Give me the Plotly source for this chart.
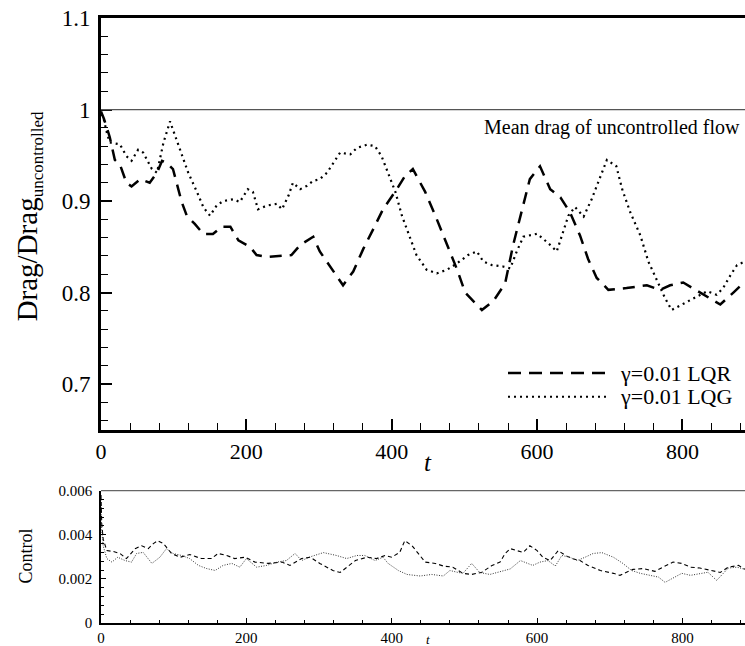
import plotly.graph_objects as go

# ---------------- data ----------------
t_lqr = [0, 4, 12, 19, 26, 35, 42, 54, 67, 77, 84, 90, 99, 111, 118, 129, 141, 154, 166, 178,
         189, 205, 214, 228, 251, 262, 274, 292, 301, 320, 333, 347, 361, 375, 388, 407, 418, 429, 446, 460,
         476, 490, 501, 524, 540, 556, 567, 577, 590, 604, 618, 632, 645, 659, 670, 682, 698, 723, 751, 769,
         783, 801, 824, 852, 870, 886]
drag_lqr = [0.998, 0.99, 0.97, 0.945, 0.94, 0.92, 0.916, 0.924, 0.92, 0.931,
            0.944, 0.942, 0.935, 0.899, 0.884, 0.875, 0.864, 0.864, 0.872, 0.872,
            0.857, 0.85, 0.841, 0.839, 0.8405, 0.841, 0.852, 0.861, 0.845, 0.823,
            0.808, 0.823, 0.848, 0.870, 0.891, 0.913, 0.927, 0.935, 0.91, 0.884,
            0.852, 0.825, 0.80, 0.781, 0.791, 0.810, 0.852, 0.884, 0.924, 0.938,
            0.913, 0.904, 0.888, 0.8625, 0.837, 0.816, 0.803, 0.805, 0.808, 0.803,
            0.808, 0.811, 0.80, 0.787, 0.80, 0.812]

t_lqg = [0, 3, 8, 12, 26, 35, 42, 51, 58, 70, 77, 86, 95, 104, 111, 120, 132, 141, 150, 159,
         168, 182, 191, 202, 209, 216, 228, 242, 249, 258, 264, 274, 283, 292, 301, 311, 320, 329, 343, 352,
         366, 377, 386, 395, 405, 414, 425, 434, 448, 462, 476, 490, 505, 517, 526, 538, 553, 563, 572, 581,
         600, 616, 627, 636, 643, 652, 664, 675, 687, 696, 709, 717, 728, 742, 753, 767, 776, 785, 799, 815,
         834, 847, 856, 866, 875, 886]
drag_lqg = [0.995, 0.992, 0.975, 0.964, 0.962, 0.949, 0.944, 0.956, 0.953, 0.935,
            0.931, 0.964, 0.987, 0.967, 0.949, 0.931, 0.91, 0.893, 0.884, 0.895,
            0.90, 0.902, 0.899, 0.913, 0.91, 0.891, 0.895, 0.897, 0.891, 0.906,
            0.92, 0.913, 0.9165, 0.922, 0.924, 0.931, 0.942, 0.953, 0.951, 0.958,
            0.9616, 0.96, 0.949, 0.931, 0.91, 0.884, 0.859, 0.841, 0.825, 0.821,
            0.825, 0.832, 0.841, 0.845, 0.834, 0.83, 0.8285, 0.8265, 0.845, 0.861,
            0.8643, 0.8535, 0.845, 0.866, 0.884, 0.8935, 0.883, 0.902, 0.927, 0.945,
            0.938, 0.913, 0.888, 0.8625, 0.834, 0.8085, 0.794, 0.781, 0.787, 0.794,
            0.8015, 0.7976, 0.805, 0.819, 0.83, 0.834]

tc_lqr = [0, 1, 3, 8, 17, 26, 35, 47, 56, 65, 72, 78, 86, 90, 97, 109, 122, 138, 152, 161,
          173, 184, 198, 212, 230, 249, 260, 276, 288, 301, 319, 329, 338, 350, 366, 379, 391, 400, 411, 418,
          428, 436, 446, 460, 471, 484, 498, 510, 524, 538, 549, 556, 563, 572, 581, 590, 600, 608, 618, 629,
          639, 648, 659, 670, 687, 705, 714, 723, 732, 746, 762, 773, 787, 799, 811, 824, 838, 852, 863, 877,
          886]
ctrl_lqr = [0.0058, 0.0045, 0.0038, 0.00328, 0.00324, 0.00315, 0.00292, 0.00337, 0.0035, 0.00337,
            0.0036, 0.00373, 0.0036, 0.00343, 0.00315, 0.00298, 0.0031, 0.00292, 0.00292, 0.00315,
            0.00306, 0.00292, 0.00298, 0.00276, 0.0027, 0.00276, 0.00261, 0.00292, 0.00298, 0.0027,
            0.00238, 0.00229, 0.00253, 0.00283, 0.00298, 0.00292, 0.00306, 0.00298, 0.0032, 0.00373,
            0.0035, 0.00315, 0.00276, 0.0027, 0.00258, 0.00253, 0.00225, 0.0022, 0.0023, 0.00261,
            0.00276, 0.00315, 0.00337, 0.00328, 0.0032, 0.0035, 0.00328, 0.00298, 0.00283, 0.00328,
            0.00306, 0.00292, 0.00283, 0.00261, 0.00238, 0.00225, 0.00216, 0.0023, 0.00243, 0.00247,
            0.00234, 0.00253, 0.00276, 0.0027, 0.00253, 0.00249, 0.00238, 0.00229, 0.00253, 0.00261,
            0.00243]

tc_lqg = [0, 1, 3, 8, 15, 23, 33, 42, 49, 58, 70, 81, 90, 99, 111, 122, 134, 145, 157, 168,
          180, 191, 200, 214, 228, 242, 255, 267, 276, 288, 306, 324, 338, 352, 363, 377, 388, 395, 409, 421,
          439, 455, 471, 480, 490, 498, 510, 521, 535, 549, 563, 577, 586, 594, 604, 615, 625, 634, 645, 655,
          666, 677, 689, 705, 718, 730, 742, 755, 767, 776, 787, 799, 811, 824, 835, 847, 856, 863, 875, 886]
ctrl_lqg = [0.0056, 0.0042, 0.0035, 0.00292, 0.00276, 0.00298, 0.00283, 0.00276, 0.00315, 0.0032,
            0.0027, 0.00298, 0.00337, 0.00315, 0.00306, 0.00292, 0.00261, 0.00247, 0.00238, 0.00261,
            0.0027, 0.00253, 0.00292, 0.00253, 0.00261, 0.00276, 0.00283, 0.00315, 0.00283, 0.003,
            0.00319, 0.00306, 0.00292, 0.00306, 0.00306, 0.00283, 0.00298, 0.0027, 0.00238, 0.0022,
            0.00213, 0.0022, 0.00213, 0.00238, 0.0023, 0.00225, 0.0027, 0.00229, 0.0022, 0.00232,
            0.00245, 0.00283, 0.0027, 0.00261, 0.00276, 0.00283, 0.00258, 0.00306, 0.00298, 0.00283,
            0.00298, 0.00315, 0.00319, 0.00298, 0.0027, 0.00238, 0.00225, 0.00216, 0.00208, 0.00184,
            0.00204, 0.00225, 0.00216, 0.00225, 0.0023, 0.00193, 0.00225, 0.00249, 0.00253, 0.00243]

mean_drag = 1.0
series_names = ["γ=0.01 LQR", "γ=0.01 LQG"]
drag_ticks = [0.7, 0.8, 0.9, 1.0, 1.1]
drag_ticktext = ["0.7", "0.8", "0.9", "1", "1.1"]
ctrl_ticks = [0, 0.002, 0.004, 0.006]
ctrl_ticktext = ["0", "0.002", "0.004", "0.006"]
t_ticks = [0, 200, 400, 600, 800]

FONT = "Liberation Serif"

fig = go.Figure()

fig.add_trace(go.Scatter(x=t_lqr, y=drag_lqr, mode="lines", name=series_names[0],
                         line=dict(color="black", width=2.5, dash="12px,8px"),
                         xaxis="x", yaxis="y", showlegend=False))
fig.add_trace(go.Scatter(x=t_lqg, y=drag_lqg, mode="lines", name=series_names[1],
                         line=dict(color="black", width=2.2, dash="2px,4px"),
                         xaxis="x", yaxis="y", showlegend=False))
fig.add_trace(go.Scatter(x=tc_lqr, y=ctrl_lqr, mode="lines", name=series_names[0],
                         line=dict(color="black", width=1.1, dash="4px,3px"),
                         xaxis="x2", yaxis="y2", showlegend=False))
fig.add_trace(go.Scatter(x=tc_lqg, y=ctrl_lqg, mode="lines", name=series_names[1],
                         line=dict(color="#333333", width=1.0, dash="1px,1.5px"),
                         xaxis="x2", yaxis="y2", showlegend=False))

W, H = 745, 646
ML, MR, MT, MB = 101, 0, 18, 18
PW = W - ML - MR
PH = H - MT - MB


def px_x(px):
    return (px - ML) / PW


def px_y(py):
    return (H - MB - py) / PH


axis_common = dict(showgrid=False, zeroline=False, showline=True, linecolor="black",
                   ticks="inside", tickcolor="black")

fig.update_layout(
    width=W, height=H,
    margin=dict(l=ML, r=MR, t=MT, b=MB),
    paper_bgcolor="white", plot_bgcolor="white",
    font=dict(family=FONT, color="black"),
    showlegend=False,
    xaxis=dict(**axis_common, domain=[0, 1], anchor="y", range=[0, 886],
               tickvals=t_ticks, linewidth=3, mirror=True, ticklen=11, tickwidth=2,
               tickfont=dict(size=22, family=FONT),
               minor=dict(ticks="inside", dtick=40, tick0=0, ticklen=7, tickwidth=1, tickcolor="black")),
    yaxis=dict(**axis_common, domain=[px_y(433.3), 1], anchor="x", range=[0.65, 1.1],
               tickvals=drag_ticks, ticktext=drag_ticktext, linewidth=3, ticklen=11, tickwidth=2,
               tickfont=dict(size=23, family=FONT), ticklabelstandoff=3,
               minor=dict(ticks="inside", dtick=0.02, tick0=0.7, ticklen=7, tickwidth=1, tickcolor="black")),
    xaxis2=dict(**axis_common, domain=[0, 1], anchor="y2", range=[0, 886],
                tickvals=t_ticks, linewidth=2, ticklen=5, tickwidth=1.2,
                tickfont=dict(size=15, family=FONT),
                minor=dict(ticks="inside", dtick=40, tick0=0, ticklen=3, tickwidth=1, tickcolor="black")),
    yaxis2=dict(**axis_common, domain=[0, px_y(494.5)], anchor="x2", range=[0, 0.006],
                tickvals=ctrl_ticks, ticktext=ctrl_ticktext, linewidth=1.5, ticklen=5, tickwidth=1.2,
                tickfont=dict(size=15, family=FONT), ticklabelstandoff=4,
                minor=dict(ticks="inside", dtick=0.0004, tick0=0, ticklen=3, tickwidth=1, tickcolor="black")),
)

shapes = [
    # mean drag reference line
    dict(type="line", xref="x domain", yref="y", x0=0, x1=1, y0=mean_drag, y1=mean_drag,
         line=dict(color="#555555", width=1.2)),
    # top frame of the lower panel
    dict(type="line", xref="x2 domain", yref="y2 domain", x0=0, x1=1, y0=1, y1=1,
         line=dict(color="#666666", width=1.2)),
    # legend samples
    dict(type="line", xref="paper", yref="paper", x0=px_x(508), x1=px_x(606),
         y0=px_y(376), y1=px_y(376), line=dict(color="black", width=2.5, dash="13px,8px")),
    dict(type="line", xref="paper", yref="paper", x0=px_x(508), x1=px_x(606),
         y0=px_y(400), y1=px_y(400), line=dict(color="black", width=2, dash="2px,4px")),
]
fig.update_layout(shapes=shapes)

annotations = [
    dict(text="Mean drag of uncontrolled flow", xref="paper", yref="paper",
         x=px_x(742), y=px_y(128), xanchor="right", yanchor="middle", showarrow=False,
         font=dict(size=20, family=FONT)),
    dict(text=series_names[0], xref="paper", yref="paper", x=px_x(618), y=px_y(376),
         xanchor="left", yanchor="middle", showarrow=False, font=dict(size=22, family=FONT)),
    dict(text=series_names[1], xref="paper", yref="paper", x=px_x(618), y=px_y(400),
         xanchor="left", yanchor="middle", showarrow=False, font=dict(size=22, family=FONT)),
    dict(text="<i>t</i>", xref="paper", yref="paper", x=px_x(428), y=px_y(466),
         xanchor="center", yanchor="middle", showarrow=False, font=dict(size=25, family=FONT)),
    dict(text="<i>t</i>", xref="paper", yref="paper", x=px_x(428), y=px_y(645),
         xanchor="center", yanchor="middle", showarrow=False, font=dict(size=13, family=FONT)),
    dict(text="Drag/Drag<sub><span style='font-size:17px'>uncontrolled</span></sub>",
         xref="paper", yref="paper",
         x=px_x(29), y=px_y(218), xanchor="center", yanchor="middle", textangle=-90,
         showarrow=False, font=dict(size=29, family=FONT)),
    dict(text="Control", xref="paper", yref="paper", x=px_x(26), y=px_y(561),
         xanchor="center", yanchor="middle", textangle=-90, showarrow=False,
         font=dict(size=18, family=FONT)),
]
fig.update_layout(annotations=annotations)

fig.write_html("out.html")
